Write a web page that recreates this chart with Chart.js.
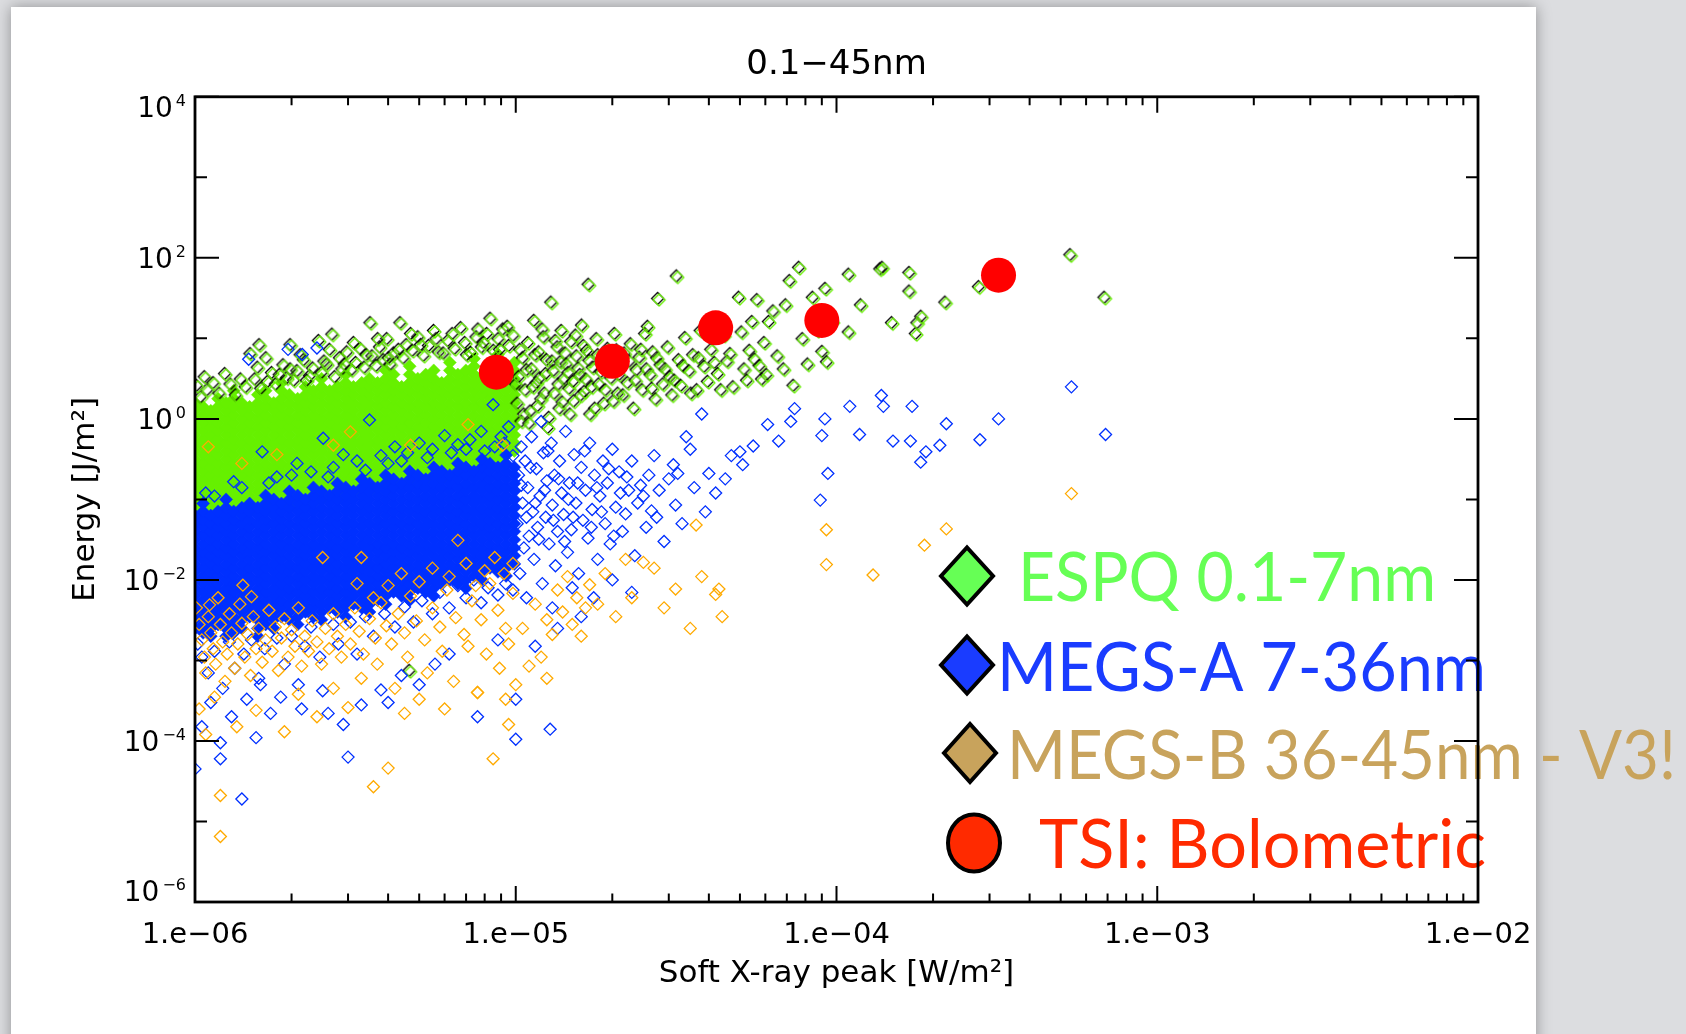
<!DOCTYPE html>
<html lang="en">
<head>
<meta charset="UTF-8">
<title>0.1-45nm</title>
<script src="https://cdn.jsdelivr.net/npm/chart.js"></script>
<style>
  html, body { margin: 0; padding: 0; background: #dcdde0; overflow: hidden; }
  #page { position: absolute; left: 11px; top: 7px; width: 1525px; height: 1100px; background: #fff; box-shadow: 0 0 14px rgba(0,0,0,0.35); }
  #chart { position: absolute; left: 0; top: 0; }
</style>
</head>
<body>
<div id="page"></div>
<canvas id="chart" width="1686" height="1034"></canvas>
<script>
// axis ticks
const xTickValues = [1e-6, 1e-5, 1e-4, 1e-3, 1e-2];
const xTickLabels = ['1.e\u221206', '1.e\u221205', '1.e\u221204', '1.e\u221203', '1.e\u221202'];
const yTickValues = [1e-6, 1e-4, 1e-2, 1, 1e2, 1e4];
const yTickExps = ['\u22126', '\u22124', '\u22122', '0', '2', '4'];
const legendLabels = ['ESPQ 0.1-7nm', 'MEGS-A 7-36nm', 'MEGS-B 36-45nm - V3!', 'TSI: Bolometric'];

// TSI bolometric flare energies [x peak, energy]
const tsiPoints = [[8.7e-6, 3.8], [2.0e-5, 5.2], [4.2e-5, 13.5], [9.0e-5, 16.7], [3.2e-4, 61]];

// ESPQ dense band (x, energies read down each column of the blob)
const espqCoreCols = [
  [1.00e-6, [0.05,0.063,0.079,0.1,0.126,0.158,0.2,0.25,0.316,0.4,0.5,0.63,0.79,1,1.26,1.58]],
  [1.06e-6, [0.056,0.071,0.089,0.112,0.141,0.178,0.224,0.28,0.355,0.45,0.56,0.71,0.89,1.12,1.41]],
  [1.12e-6, [0.063,0.079,0.1,0.126,0.158,0.2,0.25,0.316,0.4,0.5,0.63,0.79,1,1.26]],
  [1.18e-6, [0.056,0.071,0.089,0.112,0.141,0.178,0.224,0.28,0.355,0.45,0.56,0.71,0.89,1.12,1.41,1.78]],
  [1.25e-6, [0.063,0.079,0.1,0.126,0.158,0.2,0.25,0.316,0.4,0.5,0.63,0.79,1,1.26,1.58]],
  [1.32e-6, [0.071,0.089,0.112,0.141,0.178,0.224,0.28,0.355,0.45,0.56,0.71,0.89,1.12,1.41,1.78,2.24]],
  [1.40e-6, [0.063,0.079,0.1,0.126,0.158,0.2,0.25,0.316,0.4,0.5,0.63,0.79,1,1.26,1.58]],
  [1.48e-6, [0.071,0.089,0.112,0.141,0.178,0.224,0.28,0.355,0.45,0.56,0.71,0.89,1.12,1.41]],
  [1.57e-6, [0.079,0.1,0.126,0.158,0.2,0.25,0.316,0.4,0.5,0.63,0.79,1,1.26,1.58,2]],
  [1.66e-6, [0.071,0.089,0.112,0.141,0.178,0.224,0.28,0.355,0.45,0.56,0.71,0.89,1.12,1.41,1.78,2.24]],
  [1.76e-6, [0.079,0.1,0.126,0.158,0.2,0.25,0.316,0.4,0.5,0.63,0.79,1,1.26,1.58]],
  [1.86e-6, [0.089,0.112,0.141,0.178,0.224,0.28,0.355,0.45,0.56,0.71,0.89,1.12,1.41,1.78,2.24,2.8]],
  [1.97e-6, [0.079,0.1,0.126,0.158,0.2,0.25,0.316,0.4,0.5,0.63,0.79,1,1.26,1.58,2]],
  [2.09e-6, [0.089,0.112,0.141,0.178,0.224,0.28,0.355,0.45,0.56,0.71,0.89,1.12,1.41,1.78]],
  [2.21e-6, [0.1,0.126,0.158,0.2,0.25,0.316,0.4,0.5,0.63,0.79,1,1.26,1.58,2,2.5]],
  [2.34e-6, [0.089,0.112,0.141,0.178,0.224,0.28,0.355,0.45,0.56,0.71,0.89,1.12,1.41,1.78,2.24]],
  [2.48e-6, [0.1,0.126,0.158,0.2,0.25,0.316,0.4,0.5,0.63,0.79,1,1.26,1.58,2,2.5,3.16]],
  [2.63e-6, [0.112,0.141,0.178,0.224,0.28,0.355,0.45,0.56,0.71,0.89,1.12,1.41,1.78,2.24]],
  [2.78e-6, [0.1,0.126,0.158,0.2,0.25,0.316,0.4,0.5,0.63,0.79,1,1.26,1.58,2,2.5]],
  [2.95e-6, [0.112,0.141,0.178,0.224,0.28,0.355,0.45,0.56,0.71,0.89,1.12,1.41,1.78,2.24,2.8,3.55]],
  [3.12e-6, [0.126,0.158,0.2,0.25,0.316,0.4,0.5,0.63,0.79,1,1.26,1.58,2,2.5]],
  [3.31e-6, [0.112,0.141,0.178,0.224,0.28,0.355,0.45,0.56,0.71,0.89,1.12,1.41,1.78,2.24,2.8]],
  [3.50e-6, [0.126,0.158,0.2,0.25,0.316,0.4,0.5,0.63,0.79,1,1.26,1.58,2,2.5,3.16]],
  [3.71e-6, [0.141,0.178,0.224,0.28,0.355,0.45,0.56,0.71,0.89,1.12,1.41,1.78,2.24,2.8]],
  [3.93e-6, [0.126,0.158,0.2,0.25,0.316,0.4,0.5,0.63,0.79,1,1.26,1.58,2,2.5,3.16,4]],
  [4.16e-6, [0.141,0.178,0.224,0.28,0.355,0.45,0.56,0.71,0.89,1.12,1.41,1.78,2.24,2.8,3.55]],
  [4.41e-6, [0.158,0.2,0.25,0.316,0.4,0.5,0.63,0.79,1,1.26,1.58,2,2.5]],
  [4.67e-6, [0.178,0.224,0.28,0.355,0.45,0.56,0.71,0.89,1.12,1.41,1.78,2.24,2.8,3.55,4.5]],
  [4.95e-6, [0.158,0.2,0.25,0.316,0.4,0.5,0.63,0.79,1,1.26,1.58,2,2.5,3.16]],
  [5.24e-6, [0.178,0.224,0.28,0.355,0.45,0.56,0.71,0.89,1.12,1.41,1.78,2.24,2.8,3.55]],
  [5.55e-6, [0.2,0.25,0.316,0.4,0.5,0.63,0.79,1,1.26,1.58,2,2.5,3.16,4]],
  [5.88e-6, [0.178,0.224,0.28,0.355,0.45,0.56,0.71,0.89,1.12,1.41,1.78,2.24,2.8]],
  [6.23e-6, [0.2,0.25,0.316,0.4,0.5,0.63,0.79,1,1.26,1.58,2,2.5,3.16,4,5]],
  [6.60e-6, [0.224,0.28,0.355,0.45,0.56,0.71,0.89,1.12,1.41,1.78,2.24,2.8,3.55]],
  [6.99e-6, [0.2,0.25,0.316,0.4,0.5,0.63,0.79,1,1.26,1.58,2,2.5,3.16,4]],
  [7.41e-6, [0.224,0.28,0.355,0.45,0.56,0.71,0.89,1.12,1.41,1.78,2.24,2.8,3.55,4.5,5.6]],
  [7.85e-6, [0.2,0.25,0.316,0.4,0.5,0.63,0.79,1,1.26,1.58,2,2.5,3.16]],
  [8.31e-6, [0.28,0.355,0.45,0.56,0.71,0.89,1.12,1.41,1.78,2.24,2.8,3.55,4.5]],
  [8.80e-6, [0.316,0.4,0.5,0.63,0.79,1,1.26,1.58,2,2.5,3.16,4,5,6.3]],
  [9.33e-6, [0.355,0.45,0.56,0.71,0.89,1.12,1.41,1.78,2.24,2.8,3.55]],
  [9.90e-6, [0.4,0.5,0.63,0.79,1,1.26,1.58,2,2.5,3.16,4,5]]
];

// ESPQ scattered flares
const espqPoints = [
  [1.05e-6,1.8],[1.1e-6,2.2],[1.2e-6,2.0],[1.3e-6,2.6],[1.35e-6,1.9],[1.45e-6,2.4],[1.5e-6,6.2],[1.55e-6,3.0],
  [1.6e-6,8],[1.62e-6,2.3],[1.7e-6,2.8],[1.75e-6,3.6],[1.8e-6,2.6],[1.9e-6,4.5],[1.95e-6,3.1],[2.0e-6,8],
  [2.05e-6,2.9],[2.1e-6,3.8],[2.2e-6,5.2],[2.3e-6,3.3],[2.35e-6,4.1],[2.45e-6,9],[2.5e-6,3.6],[2.6e-6,4.6],
  [2.7e-6,10.8],[2.75e-6,3.2],[2.85e-6,5.5],[2.9e-6,4.0],[3.0e-6,6.5],[3.1e-6,3.9],[3.2e-6,4.8],[3.3e-6,7.2],
  [3.4e-6,4.2],[3.55e-6,15],[3.6e-6,5.8],[3.7e-6,4.4],[3.8e-6,7.5],[3.9e-6,5.2],[4.0e-6,9.5],[4.1e-6,4.6],
  [4.2e-6,6.3],[4.4e-6,15],[4.5e-6,5.5],[4.6e-6,8],[4.8e-6,6.8],[5.0e-6,10],[5.2e-6,5.9],[5.4e-6,7.8],
  [5.6e-6,12],[5.8e-6,6.5],[6.0e-6,6.3],[6.2e-6,9],[6.5e-6,7.2],[6.8e-6,13],[7.0e-6,8.5],[7.3e-6,6.4],
  [7.6e-6,10],[7.9e-6,7.5],[8.2e-6,11],[8.4e-6,17],[8.6e-6,6.8],[8.9e-6,9.5],[9.2e-6,12.5],[9.6e-6,7.8],
  [9.9e-6,10.5],[4.7e-6,7.2e-4],
  [1.02e-6,2.5],[1.08e-6,3.2],[1.15e-6,2.7],[1.25e-6,3.5],[1.4e-6,3.0],[1.58e-6,4.2],[1.68e-6,5.5],[1.85e-6,3.4],
  [2.0e-6,4.0],[2.15e-6,6.0],[2.25e-6,2.9],[2.55e-6,5.0],[2.65e-6,7.0],[2.95e-6,4.6],[3.15e-6,8.5],[3.45e-6,6.0],
  [3.75e-6,9.5],[4.05e-6,5.5],[4.35e-6,7.0],[4.75e-6,11],[5.1e-6,8],[5.7e-6,9.5],[6.4e-6,11],[7.1e-6,6.0],
  [7.7e-6,12.5],[8.0e-6,8.5],[9.0e-6,7.0],[9.5e-6,13.5],
  [1.01e-5,2.6],[1.02e-5,1.5],[1.03e-5,3.2],[1.04e-5,7.0],[1.05e-5,0.9],[1.06e-5,5.5],[1.07e-5,1.1],[1.08e-5,2.2],
  [1.09e-5,3.9],[1.1e-5,8.5],[1.11e-5,0.85],[1.12e-5,1.2],[1.13e-5,4.0],[1.14e-5,2.4],[1.15e-5,16],[1.16e-5,6.0],
  [1.17e-5,2.7],[1.18e-5,1.4],[1.19e-5,6.5],[1.2e-5,3.1],[1.21e-5,1.7],[1.22e-5,12.5],[1.23e-5,10],[1.24e-5,2.0],
  [1.25e-5,3.5],[1.26e-5,5.2],[1.27e-5,0.75],[1.28e-5,1.0],[1.3e-5,27],[1.31e-5,5.0],[1.32e-5,3.8],[1.33e-5,2.0],
  [1.34e-5,9],[1.36e-5,7.5],[1.37e-5,2.6],[1.38e-5,1.3],[1.39e-5,4.9],[1.4e-5,12],[1.41e-5,1.55],[1.42e-5,3.0],
  [1.44e-5,6.3],[1.45e-5,4.6],[1.47e-5,3.6],[1.48e-5,2.3],[1.49e-5,1.1],[1.5e-5,8.8],[1.52e-5,2.8],[1.53e-5,1.6],
  [1.55e-5,10.5],[1.56e-5,5.8],[1.58e-5,4.1],[1.6e-5,3.4],[1.61e-5,1.9],[1.62e-5,14],[1.64e-5,7.8],[1.65e-5,2.1],
  [1.67e-5,3.0],[1.68e-5,6.8],[1.7e-5,45],[1.71e-5,5.1],[1.72e-5,1.1],[1.74e-5,2.4],[1.75e-5,4.2],[1.78e-5,1.3],
  [1.8e-5,9.5],[1.82e-5,6.0],[1.83e-5,2.6],[1.86e-5,3.7],[1.87e-5,5.3],[1.9e-5,1.5],[1.92e-5,2.2],[1.95e-5,7.2],
  [1.98e-5,4.6],[2.0e-5,3.1],[2.03e-5,1.6],[2.05e-5,11],[2.08e-5,6.9],[2.1e-5,2.0],[2.12e-5,3.4],[2.15e-5,4.8],
  [2.18e-5,1.9],[2.2e-5,6.3],[2.25e-5,2.7],[2.28e-5,5.0],[2.3e-5,8.2],[2.35e-5,1.3],[2.38e-5,2.9],[2.4e-5,3.9],
  [2.45e-5,5.6],[2.48e-5,7.0],[2.5e-5,2.2],[2.55e-5,11],[2.58e-5,4.0],[2.6e-5,13.5],[2.65e-5,3.4],[2.68e-5,2.3],
  [2.7e-5,6.5],[2.75e-5,1.7],[2.78e-5,5.5],[2.8e-5,30],[2.85e-5,4.5],[2.9e-5,2.6],[2.95e-5,4.0],[3.0e-5,7.5],
  [3.05e-5,3.2],[3.1e-5,1.9],[3.15e-5,2.9],[3.2e-5,57],[3.25e-5,5.2],[3.3e-5,2.5],[3.35e-5,4.4],[3.4e-5,9.8],
  [3.5e-5,3.8],[3.55e-5,2.0],[3.6e-5,6.0],[3.7e-5,2.2],[3.75e-5,5.5],[3.8e-5,12],[3.9e-5,4.3],[4.0e-5,2.8],
  [4.1e-5,7.0],[4.2e-5,4.8],[4.3e-5,3.5],[4.4e-5,2.2],[4.5e-5,10.5],[4.6e-5,5.0],[4.7e-5,6.2],[4.8e-5,2.4],
  [5.0e-5,31],[5.1e-5,11.5],[5.2e-5,4.0],[5.3e-5,2.9],[5.4e-5,6.8],[5.5e-5,15.5],[5.6e-5,5.3],[5.7e-5,29],
  [5.8e-5,4.4],[5.9e-5,3.0],[6.0e-5,8.5],[6.1e-5,3.4],[6.2e-5,15.5],[6.4e-5,21],[6.6e-5,5.8],[6.9e-5,4.0],
  [7.0e-5,25],[7.2e-5,50],[7.4e-5,2.5],[7.7e-5,73],[7.9e-5,9.5],[8.2e-5,4.6],[8.5e-5,31],[8.8e-5,12],
  [9.1e-5,6.6],[9.3e-5,40],[9.4e-5,4.9],[9.8e-5,15.5],
  [1.1e-4,60],[1.1e-4,11.5],[1.2e-4,25],[1.38e-4,70],[1.4e-4,73],[1.5e-4,15],[1.7e-4,63],[1.7e-4,37],
  [1.78e-4,11],[1.8e-4,15],[1.85e-4,18],[2.2e-4,27],[2.8e-4,42],[5.4e-4,105],[6.9e-4,31]
];

// MEGS-A dense band
const megsACoreCols = [
  [1.00e-6, [0.0025,0.0032,0.004,0.005,0.0063,0.0079,0.01,0.0126,0.0158,0.02,0.025,0.0316,0.04,0.05,0.063]],
  [1.06e-6, [0.0022,0.0028,0.0035,0.0045,0.0056,0.0071,0.0089,0.0112,0.0141,0.0178,0.0224,0.028,0.0355,0.045,0.056,0.071,0.089]],
  [1.12e-6, [0.002,0.0025,0.0032,0.004,0.005,0.0063,0.0079,0.01,0.0126,0.0158,0.02,0.025,0.0316,0.04,0.05,0.063]],
  [1.18e-6, [0.0028,0.0035,0.0045,0.0056,0.0071,0.0089,0.0112,0.0141,0.0178,0.0224,0.028,0.0355,0.045,0.056,0.071]],
  [1.25e-6, [0.002,0.0025,0.0032,0.004,0.005,0.0063,0.0079,0.01,0.0126,0.0158,0.02,0.025,0.0316,0.04,0.05,0.063,0.079,0.1]],
  [1.32e-6, [0.0022,0.0028,0.0035,0.0045,0.0056,0.0071,0.0089,0.0112,0.0141,0.0178,0.0224,0.028,0.0355,0.045,0.056,0.071]],
  [1.40e-6, [0.0025,0.0032,0.004,0.005,0.0063,0.0079,0.01,0.0126,0.0158,0.02,0.025,0.0316,0.04,0.05,0.063,0.079]],
  [1.48e-6, [0.0035,0.0045,0.0056,0.0071,0.0089,0.0112,0.0141,0.0178,0.0224,0.028,0.0355,0.045,0.056,0.071,0.089]],
  [1.57e-6, [0.002,0.0025,0.0032,0.004,0.005,0.0063,0.0079,0.01,0.0126,0.0158,0.02,0.025,0.0316,0.04,0.05,0.063,0.079]],
  [1.66e-6, [0.0028,0.0035,0.0045,0.0056,0.0071,0.0089,0.0112,0.0141,0.0178,0.0224,0.028,0.0355,0.045,0.056,0.071,0.089,0.112]],
  [1.76e-6, [0.0025,0.0032,0.004,0.005,0.0063,0.0079,0.01,0.0126,0.0158,0.02,0.025,0.0316,0.04,0.05,0.063,0.079,0.1]],
  [1.86e-6, [0.0035,0.0045,0.0056,0.0071,0.0089,0.0112,0.0141,0.0178,0.0224,0.028,0.0355,0.045,0.056,0.071,0.089]],
  [1.97e-6, [0.0032,0.004,0.005,0.0063,0.0079,0.01,0.0126,0.0158,0.02,0.025,0.0316,0.04,0.05,0.063,0.079,0.1,0.126]],
  [2.09e-6, [0.0028,0.0035,0.0045,0.0056,0.0071,0.0089,0.0112,0.0141,0.0178,0.0224,0.028,0.0355,0.045,0.056,0.071,0.089,0.112]],
  [2.21e-6, [0.004,0.005,0.0063,0.0079,0.01,0.0126,0.0158,0.02,0.025,0.0316,0.04,0.05,0.063,0.079,0.1]],
  [2.34e-6, [0.0035,0.0045,0.0056,0.0071,0.0089,0.0112,0.0141,0.0178,0.0224,0.028,0.0355,0.045,0.056,0.071,0.089,0.112,0.141]],
  [2.48e-6, [0.0032,0.004,0.005,0.0063,0.0079,0.01,0.0126,0.0158,0.02,0.025,0.0316,0.04,0.05,0.063,0.079,0.1,0.126]],
  [2.63e-6, [0.0045,0.0056,0.0071,0.0089,0.0112,0.0141,0.0178,0.0224,0.028,0.0355,0.045,0.056,0.071,0.089,0.112]],
  [2.78e-6, [0.004,0.005,0.0063,0.0079,0.01,0.0126,0.0158,0.02,0.025,0.0316,0.04,0.05,0.063,0.079,0.1,0.126,0.158]],
  [2.95e-6, [0.0035,0.0045,0.0056,0.0071,0.0089,0.0112,0.0141,0.0178,0.0224,0.028,0.0355,0.045,0.056,0.071,0.089,0.112,0.141]],
  [3.12e-6, [0.005,0.0063,0.0079,0.01,0.0126,0.0158,0.02,0.025,0.0316,0.04,0.05,0.063,0.079,0.1,0.126]],
  [3.31e-6, [0.0045,0.0056,0.0071,0.0089,0.0112,0.0141,0.0178,0.0224,0.028,0.0355,0.045,0.056,0.071,0.089,0.112,0.141,0.178]],
  [3.50e-6, [0.004,0.005,0.0063,0.0079,0.01,0.0126,0.0158,0.02,0.025,0.0316,0.04,0.05,0.063,0.079,0.1,0.126,0.158]],
  [3.71e-6, [0.0056,0.0071,0.0089,0.0112,0.0141,0.0178,0.0224,0.028,0.0355,0.045,0.056,0.071,0.089,0.112,0.141]],
  [3.93e-6, [0.005,0.0063,0.0079,0.01,0.0126,0.0158,0.02,0.025,0.0316,0.04,0.05,0.063,0.079,0.1,0.126,0.158,0.2]],
  [4.16e-6, [0.0071,0.0089,0.0112,0.0141,0.0178,0.0224,0.028,0.0355,0.045,0.056,0.071,0.089,0.112,0.141,0.178]],
  [4.41e-6, [0.0063,0.0079,0.01,0.0126,0.0158,0.02,0.025,0.0316,0.04,0.05,0.063,0.079,0.1,0.126,0.158]],
  [4.67e-6, [0.0056,0.0071,0.0089,0.0112,0.0141,0.0178,0.0224,0.028,0.0355,0.045,0.056,0.071,0.089,0.112,0.141,0.178,0.224]],
  [4.95e-6, [0.0079,0.01,0.0126,0.0158,0.02,0.025,0.0316,0.04,0.05,0.063,0.079,0.1,0.126,0.158,0.2]],
  [5.24e-6, [0.0071,0.0089,0.0112,0.0141,0.0178,0.0224,0.028,0.0355,0.045,0.056,0.071,0.089,0.112,0.141,0.178]],
  [5.55e-6, [0.0063,0.0079,0.01,0.0126,0.0158,0.02,0.025,0.0316,0.04,0.05,0.063,0.079,0.1,0.126,0.158,0.2,0.25]],
  [5.88e-6, [0.0089,0.0112,0.0141,0.0178,0.0224,0.028,0.0355,0.045,0.056,0.071,0.089,0.112,0.141,0.178,0.224]],
  [6.23e-6, [0.01,0.0126,0.0158,0.02,0.025,0.0316,0.04,0.05,0.063,0.079,0.1,0.126,0.158,0.2]],
  [6.60e-6, [0.0089,0.0112,0.0141,0.0178,0.0224,0.028,0.0355,0.045,0.056,0.071,0.089,0.112,0.141,0.178,0.224,0.28]],
  [6.99e-6, [0.0079,0.01,0.0126,0.0158,0.02,0.025,0.0316,0.04,0.05,0.063,0.079,0.1,0.126,0.158,0.2,0.25]],
  [7.41e-6, [0.0112,0.0141,0.0178,0.0224,0.028,0.0355,0.045,0.056,0.071,0.089,0.112,0.141,0.178,0.224]],
  [7.85e-6, [0.01,0.0126,0.0158,0.02,0.025,0.0316,0.04,0.05,0.063,0.079,0.1,0.126,0.158,0.2,0.25,0.316]],
  [8.31e-6, [0.0141,0.0178,0.0224,0.028,0.0355,0.045,0.056,0.071,0.089,0.112,0.141,0.178,0.224,0.28]],
  [8.80e-6, [0.0126,0.0158,0.02,0.025,0.0316,0.04,0.05,0.063,0.079,0.1,0.126,0.158,0.2,0.25]],
  [9.33e-6, [0.0112,0.0141,0.0178,0.0224,0.028,0.0355,0.045,0.056,0.071,0.089,0.112,0.141,0.178,0.224,0.28,0.355]],
  [9.90e-6, [0.0158,0.02,0.025,0.0316,0.04,0.05,0.063,0.079,0.1,0.126,0.158,0.2,0.25]]
];

// MEGS-A scattered flares
const megsAPoints = [
  [1.47e-6,5.5],[1.95e-6,7.3],[2.16e-6,6.3],[2.4e-6,7.6],
  [1.08e-6,0.12],[1.32e-6,0.166],[1.62e-6,0.39],[1.8e-6,0.19],[2.08e-6,0.28],[2.3e-6,0.22],[2.51e-6,0.575],[2.7e-6,0.25],
  [2.9e-6,0.36],[3.2e-6,0.3],[3.5e-6,0.97],[3.8e-6,0.35],[4.2e-6,0.45],[4.6e-6,0.38],[5.0e-6,0.5],[5.5e-6,0.42],
  [6.0e-6,0.62],[6.6e-6,0.48],[7.2e-6,0.55],[7.8e-6,0.7],[8.5e-6,1.5],[9.0e-6,0.6],[9.5e-6,0.8],
  [8.0e-6,0.4],[8.6e-6,0.45],[9.2e-6,0.5],[9.8e-6,0.35],[1.15e-6,0.11],[1.4e-6,0.14],[1.7e-6,0.16],[2.0e-6,0.2],
  [2.6e-6,0.19],[3.4e-6,0.23],[4.0e-6,0.28],[4.4e-6,0.3],[5.3e-6,0.33],[6.3e-6,0.38],[7.0e-6,0.42],
  [1.02e-6,1.6e-3],[1.05e-6,1.1e-3],[1.1e-6,7e-4],[1.15e-6,1.3e-3],[1.2e-6,9.5e-5],[1.22e-6,4.5e-4],[1.28e-6,1.7e-3],[1.33e-6,8e-4],
  [1.4e-6,1.9e-5],[1.42e-6,1.2e-3],[1.45e-6,3.3e-4],[1.5e-6,1.8e-3],[1.58e-6,6e-4],[1.65e-6,1.4e-3],[1.72e-6,2.2e-4],[1.8e-6,1.9e-3],
  [1.9e-6,9e-4],[2.0e-6,2e-3],[2.1e-6,5e-4],[2.2e-6,1.5e-3],[2.3e-6,2.6e-3],[2.45e-6,1.1e-3],[2.6e-6,2.2e-4],[2.7e-6,2.8e-3],
  [2.8e-6,1.6e-3],[3.0e-6,6.3e-5],[3.05e-6,3.0e-3],[3.2e-6,1.2e-3],[3.4e-6,3.5e-3],[3.6e-6,2.0e-3],[3.8e-6,4.3e-4],[3.9e-6,3.8e-3],
  [4.2e-6,2.6e-3],[4.5e-6,4.6e-3],[4.8e-6,3.0e-3],[5.1e-6,5.5e-3],[5.5e-6,3.8e-3],[5.8e-6,7.0e-3],[6.2e-6,4.5e-3],[6.6e-6,8.5e-3],
  [7.0e-6,6.0e-3],[7.4e-6,1.0e-2],[7.8e-6,5.2e-3],[8.2e-6,8.0e-3],[8.8e-6,6.5e-3],[9.3e-6,0.009],[9.8e-6,7.5e-3],
  [1.0e-6,4.5e-5],[1.05e-6,1.5e-4],[1.12e-6,3e-4],[1.2e-6,6e-5],[1.3e-6,2e-4],[1.55e-6,1.1e-4],[1.6e-6,5e-4],[1.85e-6,3.5e-4],
  [2.15e-6,2.5e-4],[2.5e-6,4.2e-4],[2.9e-6,1.6e-4],[3.3e-6,2.8e-4],[4.0e-6,3.0e-4],[4.4e-6,6.5e-4],[5.0e-6,5e-4],[5.6e-6,9e-4],
  [6.2e-6,1.2e-3],[7.6e-6,2e-4],[8.8e-6,1.8e-3],[1.0e-5,3.3e-4],[1.0e-5,1.05e-4],[1.28e-5,1.4e-4],[1.15e-5,1.5e-3],[1.35e-5,2.5e-3],
  [1.01e-5,0.05],[1.02e-5,0.2],[1.03e-5,0.012],[1.04e-5,0.45],[1.05e-5,0.09],[1.06e-5,0.025],[1.07e-5,0.3],[1.08e-5,0.006],
  [1.09e-5,0.14],[1.1e-5,0.035],[1.12e-5,0.6],[1.13e-5,0.07],[1.14e-5,0.018],[1.16e-5,0.24],[1.17e-5,0.045],[1.19e-5,0.11],
  [1.2e-5,0.93],[1.21e-5,0.009],[1.22e-5,0.38],[1.24e-5,0.06],[1.25e-5,0.17],[1.27e-5,0.028],[1.29e-5,0.5],[1.3e-5,0.085],
  [1.32e-5,0.2],[1.33e-5,0.015],[1.35e-5,0.04],[1.37e-5,0.3],[1.39e-5,0.12],[1.41e-5,0.065],[1.43e-5,0.7],[1.45e-5,0.022],
  [1.47e-5,0.16],[1.49e-5,0.042],[1.52e-5,0.36],[1.54e-5,0.09],[1.57e-5,0.012],[1.6e-5,0.25],[1.62e-5,0.055],[1.65e-5,0.13],
  [1.68e-5,0.033],[1.7e-5,0.5],[1.73e-5,0.075],[1.76e-5,0.2],[1.8e-5,0.018],[1.83e-5,0.11],[1.87e-5,0.3],[1.9e-5,0.05],
  [1.93e-5,0.16],[1.97e-5,0.028],[2.0e-5,0.42],[2.05e-5,0.08],[2.1e-5,0.22],[2.15e-5,0.04],[2.2e-5,0.066],[2.25e-5,0.13],
  [2.3e-5,0.3],[2.35e-5,0.02],[2.4e-5,0.09],[2.5e-5,0.11],[2.55e-5,0.045],[2.6e-5,0.2],[2.65e-5,0.072],[2.7e-5,0.35],
  [2.8e-5,0.13],[2.9e-5,0.03],[3.0e-5,0.18],[3.15e-5,0.085],[3.2e-5,0.21],[3.3e-5,0.05],[3.4e-5,0.6],[3.5e-5,0.42],
  [3.6e-5,0.14],[3.8e-5,1.15],[3.9e-5,0.07],[4.0e-5,0.21],[4.2e-5,0.12],[4.5e-5,0.18],[4.7e-5,0.35],[5.0e-5,0.39],
  [1.5e-5,0.008],[1.75e-5,0.006],[2.0e-5,0.01],[2.3e-5,0.007],[1.3e-5,0.0045],[1.6e-5,0.0035],
  [1.04e-5,0.15],[1.08e-5,0.06],[1.11e-5,0.25],[1.15e-5,0.09],[1.18e-5,0.032],[1.23e-5,0.13],[1.26e-5,0.4],[1.31e-5,0.055],
  [1.36e-5,0.18],[1.42e-5,0.03],[1.46e-5,0.1],[1.51e-5,0.06],[1.56e-5,0.16],[1.64e-5,0.4],[1.72e-5,0.045],[1.79e-5,0.14],
  [1.85e-5,0.07],[1.95e-5,0.24],[2.02e-5,0.035],[2.12e-5,0.12],[2.22e-5,0.19],[2.45e-5,0.15],[2.75e-5,0.06],[3.1e-5,0.27],
  [5.1e-5,0.27],[5.5e-5,0.46],[6.1e-5,0.85],[6.6e-5,0.53],[7.2e-5,0.93],[7.4e-5,1.34],[8.9e-5,0.098],[9.0e-5,0.62],
  [9.2e-5,1.0],[9.4e-5,0.21],[1.1e-4,1.43],[1.18e-4,0.64],[1.38e-4,1.95],[1.4e-4,1.43],[1.5e-4,0.53],[1.7e-4,0.53],
  [1.72e-4,1.43],[1.83e-4,0.29],[1.9e-4,0.39],[2.1e-4,0.47],[2.2e-4,0.87],[2.8e-4,0.55],[3.2e-4,1.0],[5.4e-4,2.5],[6.9e-4,0.64]
];

// MEGS-B flares
const megsBPoints = [
  [1.01e-6,0.0045],[1.03e-6,0.0028],[1.05e-6,0.0018],[1.07e-6,0.0011],[1.08e-6,7e-4],[1.1e-6,0.0035],[1.12e-6,0.0022],[1.14e-6,0.0014],
  [1.16e-6,9e-4],[1.18e-6,0.006],[1.2e-6,0.0028],[1.22e-6,0.0017],[1.24e-6,5.5e-4],[1.26e-6,0.0012],[1.28e-6,0.0038],[1.3e-6,0.0022],
  [1.33e-6,8e-4],[1.36e-6,0.0016],[1.38e-6,0.005],[1.4e-6,0.0029],[1.43e-6,0.0011],[1.46e-6,0.0021],[1.49e-6,6.5e-4],[1.52e-6,0.0035],
  [1.55e-6,0.0014],[1.58e-6,0.0025],[1.62e-6,9.5e-4],[1.66e-6,0.0018],[1.7e-6,0.0042],[1.74e-6,0.0013],[1.78e-6,0.0026],[1.82e-6,7.5e-4],
  [1.86e-6,0.0019],[1.9e-6,0.0033],[1.95e-6,0.0011],[2.0e-6,0.0024],[2.05e-6,0.0015],[2.1e-6,0.0045],[2.15e-6,8.5e-4],[2.2e-6,0.002],
  [2.26e-6,0.0013],[2.32e-6,0.0031],[2.4e-6,0.0017],[2.48e-6,9e-4],[2.55e-6,0.0025],[2.62e-6,0.0014],[2.7e-6,0.0038],[2.78e-6,0.002],
  [2.86e-6,0.0011],[2.95e-6,0.0028],[3.05e-6,0.0016],[3.15e-6,0.0045],[3.25e-6,0.0023],[3.35e-6,0.0012],[3.5e-6,0.0033],[3.65e-6,0.0019],
  [3.8e-6,0.0052],[3.95e-6,0.0027],[4.1e-6,0.0016],[4.3e-6,0.0038],[4.5e-6,0.0022],[4.7e-6,0.0063],[4.9e-6,0.0031],[5.2e-6,0.0018],
  [5.5e-6,0.0045],[5.8e-6,0.0026],[6.1e-6,0.0075],[6.5e-6,0.0034],[6.9e-6,0.0021],[7.3e-6,0.0055],[7.8e-6,0.0032],[8.3e-6,0.009],
  [8.8e-6,0.0042],[9.3e-6,0.0025],[9.8e-6,0.0068],
  [1.1e-6,0.45],[1.4e-6,0.28],[1.8e-6,0.36],[3.05e-6,0.69],[2.7e-6,0.47],[4.7e-6,0.47],[7.1e-6,0.85],[9.1e-6,0.47],
  [2.5e-6,0.019],[3.3e-6,0.019],[6.6e-6,0.031],[1.41e-6,0.0086],[1.5e-6,0.0062],[1.11e-6,0.0049],
  [3.2e-6,0.009],[3.6e-6,0.006],[4e-6,0.0085],[4.4e-6,0.012],[5.0e-6,0.0095],[5.5e-6,0.014],[6.2e-6,0.011],[7e-6,0.016],
  [7.5e-6,0.0085],[8e-6,0.013],[8.6e-6,0.019],[9.2e-6,0.012],[9.8e-6,0.016],
  [3.3e-6,6e-4],[3.7e-6,9e-4],[4.2e-6,4.5e-4],[4.6e-6,1.1e-3],[5.3e-6,7e-4],[5.9e-6,1.3e-3],[6.4e-6,5.5e-4],[7.1e-6,1.5e-3],
  [7.6e-6,4e-4],[8.1e-6,1.2e-3],[8.9e-6,8e-4],[9.5e-6,1.6e-3],[1.0e-5,5e-4],
  [1.03e-6,2.5e-4],[1.08e-6,1.2e-4],[1.15e-6,3.5e-4],[1.2e-6,2.1e-5],[1.2e-6,6.5e-6],[1.35e-6,1.5e-4],[1.55e-6,2.4e-4],[1.9e-6,1.3e-4],
  [2.1e-6,3.8e-4],[2.4e-6,2e-4],[2.7e-6,4.5e-4],[3.0e-6,2.6e-4],[3.6e-6,2.7e-5],[4.0e-6,4.6e-5],[4.5e-6,2.2e-4],[5.0e-6,3.3e-4],
  [6.0e-6,2.5e-4],[7.6e-6,4e-4],[8.5e-6,6e-5],[9.3e-6,3.3e-4],[9.5e-6,1.6e-4],
  [1.05e-5,2.5e-3],[1.15e-5,0.005],[1.25e-5,3.2e-3],[1.35e-5,0.0075],[1.45e-5,0.011],[1.55e-5,0.006],[1.65e-5,0.0045],[1.25e-5,6e-4],
  [1.1e-5,8.5e-4],[1.2e-5,1.1e-3],[1.3e-5,2.1e-3],[1.4e-5,0.004],[1.5e-5,0.0028],[1.6e-5,2e-3],[1.7e-5,0.0087],[1.8e-5,0.005],
  [1.9e-5,0.012],[2.05e-5,3.5e-3],[2.2e-5,0.018],[2.3e-5,0.006],[2.5e-5,0.0165],[2.7e-5,0.014],[2.9e-5,0.0045],[3.15e-5,0.0077],
  [3.5e-5,0.0025],[3.65e-5,0.048],[3.8e-5,0.011],[4.2e-5,0.0066],[4.3e-5,0.0077],[4.4e-5,0.0035],[9.3e-5,0.042],[9.3e-5,0.0155],
  [1.3e-4,0.0115],[1.88e-4,0.027],[2.2e-4,0.043],[5.4e-4,0.118]
];

const GREEN = 'rgb(102,240,0)';
const BLUE = 'rgb(0,48,255)';
const ORANGE = 'rgb(255,170,0)';
const FONT = '"DejaVu Sans", sans-serif';

const toXY = p => ({ x: p[0], y: p[1] });
const fromCols = cols => cols.flatMap(c => c[1].map(v => ({ x: c[0], y: v })));

// ESPQ symbol: green diamond with a black twin just behind it
function makeEspqMarker() {
  const c = document.createElement('canvas');
  c.width = 22; c.height = 22;
  const g = c.getContext('2d');
  const dia = (cx, cy, r, col) => {
    g.beginPath();
    g.moveTo(cx - r, cy); g.lineTo(cx, cy - r); g.lineTo(cx + r, cy); g.lineTo(cx, cy + r);
    g.closePath();
    g.strokeStyle = col; g.lineWidth = 1.3; g.stroke();
  };
  dia(9.5, 9.5, 6, '#000');
  dia(11, 11, 6, GREEN);
  return c;
}

const legendPlugin = {
  id: 'slideLegend',
  afterDatasetsDraw(chart) {
    const ctx = chart.ctx;
    ctx.save();
    ctx.lineWidth = 4;
    ctx.strokeStyle = '#000';
    const diamond = (cx, cy, rx, ry, fill) => {
      ctx.beginPath();
      ctx.moveTo(cx - rx, cy); ctx.lineTo(cx, cy - ry); ctx.lineTo(cx + rx, cy); ctx.lineTo(cx, cy + ry);
      ctx.closePath();
      ctx.fillStyle = fill; ctx.fill(); ctx.stroke();
    };
    diamond(967, 576, 26, 28.5, '#66ff55');
    diamond(967, 665, 26, 28.5, '#1a3cff');
    diamond(970, 753, 26, 29, '#c8a35c');
    ctx.beginPath();
    ctx.ellipse(974, 843, 26, 28.5, 0, 0, Math.PI * 2);
    ctx.fillStyle = '#ff2a00'; ctx.fill(); ctx.stroke();

    const rows = [
      [1018, 601, 418, '#66ff55'],
      [997, 691, 489, '#1a3cff'],
      [1007, 779, 669, '#c8a35c'],
      [1039, 868, 447, '#ff2a00']
    ];
    ctx.font = '68px Lato';
    ctx.textBaseline = 'alphabetic';
    ctx.textAlign = 'left';
    rows.forEach((r, i) => {
      const w = ctx.measureText(legendLabels[i]).width;
      ctx.save();
      ctx.translate(r[0], r[1]);
      ctx.scale(r[2] / w, 1);
      ctx.fillStyle = r[3];
      ctx.fillText(legendLabels[i], 0, 0);
      ctx.restore();
    });
    ctx.restore();
  }
};

// IDL style box: inward ticks on all four sides, exponent labels on the left
const axesPlugin = {
  id: 'idlAxes',
  afterDatasetsDraw(chart) {
    const { ctx, chartArea: a, scales: { x, y } } = chart;
    ctx.save();
    ctx.strokeStyle = '#000';
    ctx.lineWidth = 2;
    ctx.beginPath();
    for (let e = -6; e <= -2; e++) {
      for (let m = 1; m <= 9; m++) {
        if (e === -2 && m > 1) break;
        const px = x.getPixelForValue(m * Math.pow(10, e));
        const len = m === 1 ? 16 : 8.5;
        ctx.moveTo(px, a.bottom); ctx.lineTo(px, a.bottom - len);
        ctx.moveTo(px, a.top); ctx.lineTo(px, a.top + len);
      }
    }
    for (let e = -6; e <= 4; e++) {
      const py = y.getPixelForValue(Math.pow(10, e));
      const len = e % 2 === 0 ? 24 : 12;
      ctx.moveTo(a.left, py); ctx.lineTo(a.left + len, py);
      ctx.moveTo(a.right, py); ctx.lineTo(a.right - len, py);
    }
    ctx.stroke();
    ctx.lineWidth = 2.8;
    ctx.strokeRect(a.left, a.top, a.right - a.left, a.bottom - a.top);
    ctx.restore();
  },
  afterDraw(chart) {
    const { ctx, scales: { y } } = chart;
    ctx.save();
    ctx.fillStyle = '#000';
    ctx.textAlign = 'right';
    ctx.textBaseline = 'alphabetic';
    yTickValues.forEach((v, i) => {
      const py = y.getPixelForValue(v);
      let base = py + 10;
      if (i === yTickValues.length - 1) base = py + 20;
      if (i === 0) base = py - 1;
      const right = 186;
      ctx.font = '16px ' + FONT;
      const ew = ctx.measureText(yTickExps[i]).width;
      ctx.fillText(yTickExps[i], right, base - 11);
      ctx.font = '28px ' + FONT;
      ctx.fillText('10', right - ew - 3, base);
    });
    ctx.restore();
  }
};

const ctx = document.getElementById('chart').getContext('2d');
const chart = new Chart(ctx, {
  type: 'scatter',
  data: {
    datasets: [
      { label: 'ESPQ core', data: fromCols(espqCoreCols), pointStyle: 'rectRot', pointRadius: 6.5,
        pointBackgroundColor: GREEN, pointBorderColor: GREEN, pointBorderWidth: 0.5, order: 6, clip: 0 },
      { label: 'ESPQ 0.1-7nm', data: espqPoints.map(toXY), pointStyle: makeEspqMarker(), order: 5, clip: 0 },
      { label: 'MEGS-A core', data: fromCols(megsACoreCols), pointStyle: 'rectRot', pointRadius: 6.5,
        pointBackgroundColor: BLUE, pointBorderColor: BLUE, pointBorderWidth: 0.5, order: 4, clip: 0 },
      { label: 'MEGS-A 7-36nm', data: megsAPoints.map(toXY), pointStyle: 'rectRot', pointRadius: 6,
        pointBackgroundColor: 'rgba(0,0,0,0)', pointBorderColor: BLUE, pointBorderWidth: 1.3, order: 3, clip: 0 },
      { label: 'MEGS-B 36-45nm', data: megsBPoints.map(toXY), pointStyle: 'rectRot', pointRadius: 6,
        pointBackgroundColor: 'rgba(0,0,0,0)', pointBorderColor: ORANGE, pointBorderWidth: 1.3, order: 2, clip: 0 },
      { label: 'TSI: Bolometric', data: tsiPoints.map(toXY), pointStyle: 'circle', pointRadius: 17.5,
        pointBackgroundColor: '#ff0000', pointBorderColor: '#ff0000', pointBorderWidth: 0, order: 1 }
    ]
  },
  options: {
    responsive: false,
    animation: false,
    events: [],
    layout: { padding: { left: 0, right: 208, top: 0, bottom: 0 } },
    plugins: {
      legend: { display: false },
      tooltip: { enabled: false },
      title: {
        display: true,
        fullSize: false,
        text: '0.1\u221245nm',
        color: '#000',
        font: { family: FONT, size: 34, weight: 'normal' },
        padding: { top: 45, bottom: 11 }
      }
    },
    scales: {
      x: {
        type: 'logarithmic',
        position: 'bottom',
        min: 1e-6,
        max: 1e-2,
        grid: { display: false, drawTicks: false },
        border: { display: false },
        afterBuildTicks: axis => { axis.ticks = xTickValues.map(v => ({ value: v })); },
        afterFit: axis => { axis.height = 132; axis.paddingLeft = 0; axis.paddingRight = 0; },
        ticks: {
          autoSkip: false,
          maxRotation: 0,
          padding: 16,
          color: '#000',
          font: { family: FONT, size: 29 },
          callback: (v, i) => xTickLabels[i]
        },
        title: {
          display: true,
          text: 'Soft X-ray peak [W/m\u00b2]',
          color: '#000',
          font: { family: FONT, size: 31 },
          padding: { top: 0, bottom: 41 }
        }
      },
      y: {
        type: 'logarithmic',
        position: 'left',
        min: 1e-6,
        max: 1e4,
        grid: { display: false, drawTicks: false },
        border: { display: false },
        afterFit: axis => { axis.width = 195; axis.paddingTop = 0; axis.paddingBottom = 0; },
        ticks: { display: false },
        title: {
          display: true,
          text: 'Energy [J/m\u00b2]',
          color: '#000',
          font: { family: FONT, size: 31 },
          padding: { top: 67, bottom: 0 }
        }
      }
    }
  },
  plugins: [legendPlugin, axesPlugin]
});
</script>
</body>
</html>
